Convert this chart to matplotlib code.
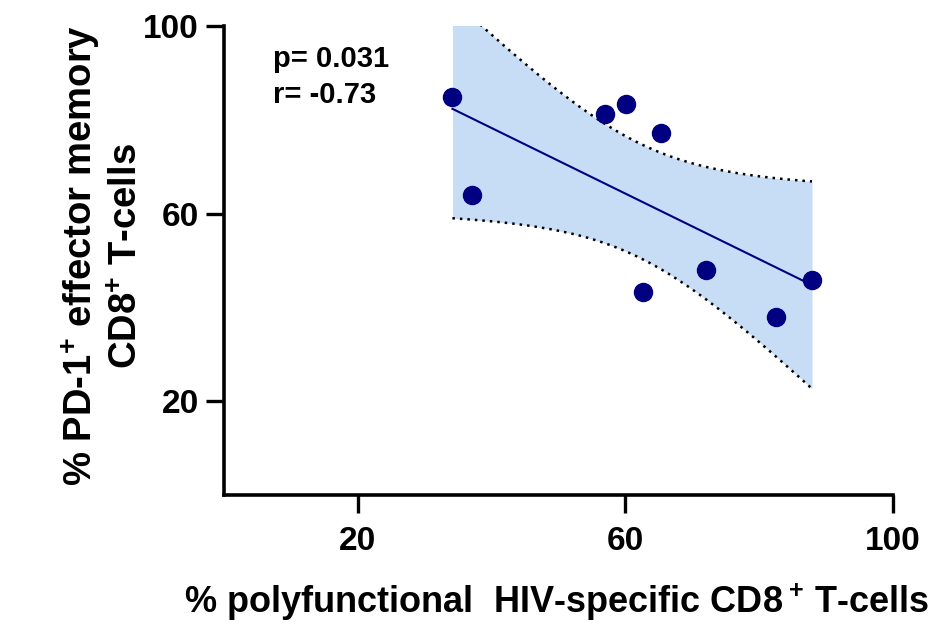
import matplotlib
matplotlib.use("Agg")
import matplotlib.pyplot as plt
import numpy as np

# values
polyfunctional = [34.15, 37.05, 56.9, 60.1, 65.3, 62.6, 72.0, 82.5, 87.9]
pd1_effector = [84.8, 64.0, 81.2, 83.3, 77.1, 43.3, 47.9, 38.0, 45.8]
x_ticks = [20, 60, 100]
y_ticks = [20, 60, 100]
stats_lines = ["p= 0.031", "r= -0.73"]

T_975_DF7 = 2.365  # two-sided 95% t value, n-2 = 7

plt.rcParams["font.family"] = ["Liberation Sans", "DejaVu Sans"]
plt.rcParams["font.weight"] = "bold"
plt.rcParams["mathtext.fontset"] = "custom"
plt.rcParams["mathtext.rm"] = "Liberation Sans:bold"
plt.rcParams["mathtext.bf"] = "Liberation Sans:bold"


def main() -> None:
    x = np.asarray(polyfunctional)
    y = np.asarray(pd1_effector)
    n = len(x)

    # least-squares fit + 95% confidence band of the mean
    slope, intercept = np.polyfit(x, y, 1)
    resid = y - (slope * x + intercept)
    s = np.sqrt((resid ** 2).sum() / (n - 2))
    sxx = ((x - x.mean()) ** 2).sum()

    xs = np.linspace(x.min(), x.max(), 200)
    fit = slope * xs + intercept
    half = T_975_DF7 * s * np.sqrt(1 / n + (xs - x.mean()) ** 2 / sxx)

    fig = plt.figure(figsize=(9.37, 6.3), dpi=100)
    ax = fig.add_axes([0.239, 0.214, 0.714, 0.745])

    ax.fill_between(xs, fit - half, fit + half, color="#c7ddf5",
                    linewidth=0, zorder=1)
    ax.plot(xs, fit, color="#000080", linewidth=1.5, zorder=2)
    ax.plot(xs, fit + half, color="black", linewidth=1.8,
            linestyle=(0, (1, 2)), zorder=2)
    ax.plot(xs, fit - half, color="black", linewidth=1.8,
            linestyle=(0, (1, 2)), zorder=2)
    ax.plot(x, y, "o", color="#000080", markersize=13, zorder=3)

    ax.set_xlim(0, 100)
    ax.set_ylim(0, 100)
    ax.set_xticks(x_ticks)
    ax.set_yticks(y_ticks)
    ax.tick_params(axis="both", labelsize=24, width=2.4, length=13)
    ax.tick_params(axis="x", pad=9)
    ax.tick_params(axis="y", pad=5)
    for sp in ("top", "right"):
        ax.spines[sp].set_visible(False)
    for sp in ("left", "bottom"):
        ax.spines[sp].set_linewidth(2.6)

    ax.text(7.3, 93.0, stats_lines[0], fontsize=21, fontweight="bold",
            ha="left", va="center")
    ax.text(7.3, 85.3, stats_lines[1], fontsize=21, fontweight="bold",
            ha="left", va="center")

    ax.set_xlabel(r"% polyfunctional  HIV-specific CD8$\,^{\mathbf{+}}$ T-cells",
                  fontsize=26, fontweight="bold")
    ax.xaxis.set_label_coords(0.497, -0.185)
    ax.set_ylabel("% PD-1$^{\\mathbf{+}}$ effector memory\nCD8$^{\\mathbf{+}}$ T-cells",
                  fontsize=27.5, fontweight="bold", multialignment="center",
                  linespacing=1.25)
    ax.yaxis.set_label_coords(-0.118, 0.51)

    fig.savefig("out.png", dpi=100)
    plt.close(fig)


if __name__ == "__main__":
    main()
